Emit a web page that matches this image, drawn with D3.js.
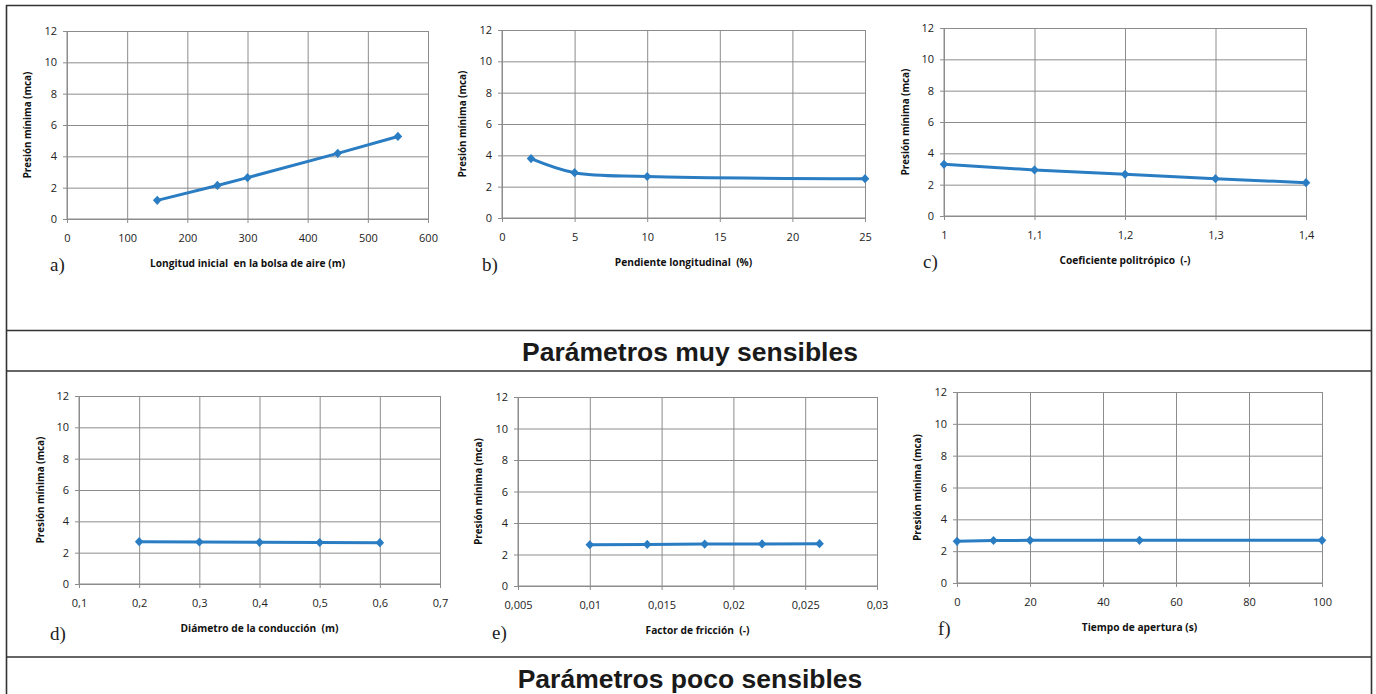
<!DOCTYPE html>
<html>
<head>
<meta charset="utf-8">
<script src="https://cdn.jsdelivr.net/npm/d3@7/dist/d3.min.js"></script>
<style>
  html, body { margin: 0; padding: 0; background: #fff; }
  svg { display: block; }
  text { white-space: pre; }
</style>
</head>
<body>
<svg id="chart" width="1376" height="694"></svg>
<script>
// ---------- DATA ----------
const panelLetters = ["a)", "b)", "c)", "d)", "e)", "f)"];
const xTitles = [
  "Longitud inicial  en la bolsa de aire (m)",
  "Pendiente longitudinal  (%)",
  "Coeficiente politrópico  (-)",
  "Diámetro de la conducción  (m)",
  "Factor de fricción  (-)",
  "Tiempo de apertura (s)"
];
const yTitle = "Presión mínima (mca)";
const bannerTitles = ["Parámetros muy sensibles", "Parámetros poco sensibles"];

const yTicks = [0, 2, 4, 6, 8, 10, 12];

const xTicksA = [0, 100, 200, 300, 400, 500, 600];
const xTicksB = [0, 5, 10, 15, 20, 25];
const xTicksC = [1, 1.1, 1.2, 1.3, 1.4];
const xTicksD = [0.1, 0.2, 0.3, 0.4, 0.5, 0.6, 0.7];
const xTicksE = [0.005, 0.01, 0.015, 0.02, 0.025, 0.03];
const xTicksF = [0, 20, 40, 60, 80, 100];

const xA = [150, 250, 300, 450, 550];
const yA = [1.19, 2.14, 2.64, 4.19, 5.27];
const xB = [2, 5, 10, 25];
const yB = [3.79, 2.89, 2.65, 2.51];
const xC = [1, 1.1, 1.2, 1.3, 1.4];
const yC = [3.30, 2.94, 2.66, 2.38, 2.13];
const xD = [0.2, 0.3, 0.4, 0.5, 0.6];
const yD = [2.70, 2.68, 2.66, 2.65, 2.64];
const xE = [0.01, 0.014, 0.018, 0.022, 0.026];
const yE = [2.62, 2.64, 2.66, 2.67, 2.69];
const xF = [0, 10, 20, 50, 100];
const yF = [2.62, 2.67, 2.68, 2.68, 2.68];

// ---------- LAYOUT ----------
const panels = [
  { xs: xA, ys: yA, ticks: xTicksA, smooth: false, box: [67, 31, 428, 219], letter: [50, 271], yt: 31 },
  { xs: xB, ys: yB, ticks: xTicksB, smooth: true,  box: [502, 30, 865, 218], letter: [482, 271], yt: 466 },
  { xs: xC, ys: yC, ticks: xTicksC, smooth: false, box: [944, 28, 1306, 216], letter: [923, 268], yt: 909 },
  { xs: xD, ys: yD, ticks: xTicksD, smooth: false, box: [79, 396, 440, 584], letter: [50, 640], yt: 44 },
  { xs: xE, ys: yE, ticks: xTicksE, smooth: false, box: [518, 397, 877, 586], letter: [492, 639], yt: 482 },
  { xs: xF, ys: yF, ticks: xTicksF, smooth: false, box: [957, 392, 1322, 583], letter: [938, 635], yt: 921 }
];

const svg = d3.select("#chart");
const frameColor = "#333";
const gridColor = "#8c8c8c";
const lineColor = "#2a7dc2";
const fmt = v => String(v).replace(".", ",");

// outer frame and separators
const frame = svg.append("g").attr("stroke", frameColor).attr("stroke-width", 1.6).attr("fill", "none");
frame.append("line").attr("x1", 6.5).attr("x2", 6.5).attr("y1", 5).attr("y2", 694);
frame.append("line").attr("x1", 1371.5).attr("x2", 1371.5).attr("y1", 5).attr("y2", 694);
frame.append("line").attr("x1", 6).attr("x2", 1372).attr("y1", 5.5).attr("y2", 5.5);
[330.5, 371, 657].forEach(y => {
  frame.append("line").attr("x1", 6).attr("x2", 1372).attr("y1", y).attr("y2", y);
});

// banners
svg.append("text").attr("x", 690).attr("y", 361)
  .attr("text-anchor", "middle").attr("font-family", "Liberation Sans, Arial, sans-serif")
  .attr("font-weight", "bold").attr("font-size", 26.5).attr("fill", "#1a1a1a").text(bannerTitles[0]);
svg.append("text").attr("x", 690).attr("y", 688)
  .attr("text-anchor", "middle").attr("font-family", "Liberation Sans, Arial, sans-serif")
  .attr("font-weight", "bold").attr("font-size", 26.5).attr("fill", "#1a1a1a").text(bannerTitles[1]);

const tickFont = "Open Sans, Noto Sans, sans-serif";

panels.forEach((p, i) => {
  const [x0, y0, x1, y1] = p.box;
  const xs = d3.scaleLinear().domain(d3.extent(p.ticks)).range([x0, x1]);
  const ys = d3.scaleLinear().domain([0, 12]).range([y1, y0]);
  const g = svg.append("g");

  // gridlines
  const yGrid = d3.axisLeft(ys).tickValues(yTicks).tickSize(-(x1 - x0)).tickFormat("");
  g.append("g").attr("transform", `translate(${x0},0)`).call(yGrid)
    .call(s => s.select(".domain").remove())
    .call(s => s.selectAll("line").attr("stroke", gridColor).attr("stroke-width", 1));
  const xGrid = d3.axisBottom(xs).tickValues(p.ticks).tickSize(-(y1 - y0)).tickFormat("");
  g.append("g").attr("transform", `translate(0,${y1})`).call(xGrid)
    .call(s => s.select(".domain").remove())
    .call(s => s.selectAll("line").attr("stroke", gridColor).attr("stroke-width", 1));

  // axes with outer ticks
  const yAxis = d3.axisLeft(ys).tickValues(yTicks).tickSize(4).tickPadding(6).tickFormat(d => d);
  g.append("g").attr("transform", `translate(${x0},0)`).call(yAxis)
    .call(s => s.select(".domain").attr("stroke", gridColor).attr("d", `M0,${y0}V${y1}`))
    .call(s => s.selectAll("line").attr("stroke", gridColor))
    .call(s => s.selectAll("text").attr("font-family", tickFont).attr("font-size", 11).attr("fill", "#222"));
  const xAxis = d3.axisBottom(xs).tickValues(p.ticks).tickSize(4).tickPadding(11).tickFormat(fmt);
  g.append("g").attr("transform", `translate(0,${y1})`).call(xAxis)
    .call(s => s.select(".domain").attr("stroke", gridColor).attr("d", `M${x0},0H${x1}`))
    .call(s => s.selectAll("line").attr("stroke", gridColor))
    .call(s => s.selectAll("text").attr("font-family", tickFont).attr("font-size", 11).attr("fill", "#222"));

  // series
  const pts = p.xs.map((v, k) => [v, p.ys[k]]);
  const line = d3.line().x(d => xs(d[0])).y(d => ys(d[1]))
    .curve(p.smooth ? d3.curveCatmullRom.alpha(0.5) : d3.curveLinear);
  g.append("path").datum(pts).attr("d", line).attr("fill", "none")
    .attr("stroke", lineColor).attr("stroke-width", 3).attr("stroke-linejoin", "round");
  g.selectAll(".mk").data(pts).enter().append("path")
    .attr("transform", d => `translate(${xs(d[0])},${ys(d[1])})`)
    .attr("d", "M0,-4.6L4.3,0L0,4.6L-4.3,0Z").attr("fill", lineColor);

  // axis titles
  g.append("text").attr("x", (x0 + x1) / 2).attr("y", y1 + 48)
    .attr("text-anchor", "middle").attr("font-family", tickFont).attr("font-weight", "bold")
    .attr("font-size", 10.2).attr("fill", "#111").text(xTitles[i]);
  g.append("text").attr("transform", `translate(${p.yt},${(y0 + y1) / 2}) rotate(-90)`)
    .attr("text-anchor", "middle").attr("font-family", tickFont).attr("font-weight", "bold")
    .attr("font-size", 9.8).attr("fill", "#111").text(yTitle);

  // panel letter
  g.append("text").attr("x", p.letter[0]).attr("y", p.letter[1])
    .attr("font-family", "Liberation Serif, Times New Roman, serif").attr("font-size", 19)
    .attr("fill", "#222").text(panelLetters[i]);
});
</script>
</body>
</html>
